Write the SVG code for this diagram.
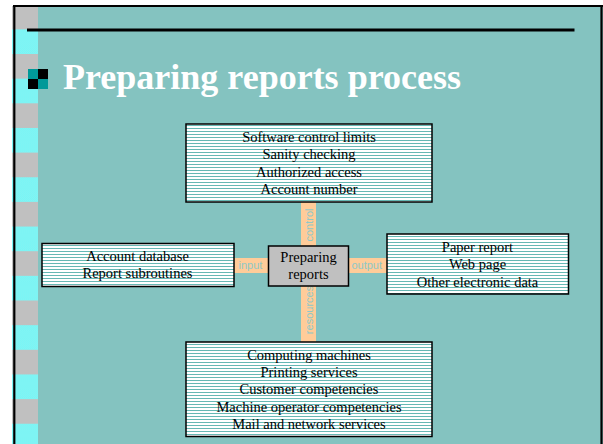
<svg xmlns="http://www.w3.org/2000/svg" width="603" height="444" viewBox="0 0 603 444">
  <defs>
    <!-- ruled fill used by the outer boxes -->
    <pattern id="ruled" patternUnits="userSpaceOnUse" x="0" y="0" width="6" height="3">
      <rect width="6" height="3" fill="#ffffff"/>
      <rect y="2" width="6" height="1" fill="#66b8b4"/>
    </pattern>
    <!-- dithered cyan used in the side band -->
    <pattern id="dither" patternUnits="userSpaceOnUse" width="2" height="2">
      <rect width="2" height="2" fill="#6ff6f6"/>
      <rect width="1" height="1" fill="#8cf2f2"/>
      <rect x="1" y="1" width="1" height="1" fill="#8cf2f2"/>
    </pattern>
    <!-- alternating grey / cyan side band -->
    <pattern id="band" patternUnits="userSpaceOnUse" x="12" y="4.7" width="26" height="49.3">
      <rect width="26" height="24.65" fill="#c0c0c0"/>
      <rect y="24.65" width="26" height="24.65" fill="url(#dither)"/>
    </pattern>
  </defs>
  <style>
    .box { fill: url(#ruled); stroke: #000; stroke-width: 1.5; }
    .core { fill: #c0c0c0; stroke: #000; stroke-width: 1.5; }
    .bar { fill: #ffcc99; }
    .txt { font-family: "Liberation Serif", "Times New Roman", serif; font-size: 14.5px; fill: #000; text-anchor: middle; }
    .lbl { font-family: "Liberation Sans", Arial, sans-serif; font-size: 11px; fill: #8ec8c8; text-anchor: middle; }
    .title { font-family: "Liberation Serif", "Times New Roman", serif; font-size: 36px; font-weight: bold; fill: #ffffff; }
  </style>

  <!-- slide background -->
  <rect x="0" y="0" width="603" height="444" fill="#ffffff"/>
  <rect x="14" y="6" width="589" height="438" fill="#84c3c0"/>
  <rect x="12" y="6" width="26" height="438" fill="url(#band)"/>
  <!-- frame -->
  <g stroke="#000" stroke-width="2.2" fill="none">
    <line x1="13" y1="6" x2="603" y2="6"/>
    <line x1="14.3" y1="6" x2="14.3" y2="444"/>
    <line x1="601.5" y1="6" x2="601.5" y2="444"/>
  </g>
  <line x1="27" y1="30" x2="574.5" y2="30" stroke="#000" stroke-width="3.2"/>

  <!-- title with bullet -->
  <g id="title">
    <rect x="28" y="69" width="10" height="10" fill="#009999"/>
    <rect x="38" y="69" width="10" height="10" fill="#000"/>
    <rect x="28" y="79" width="10" height="10" fill="#000"/>
    <rect x="38" y="79" width="10" height="10" fill="#009999"/>
    <text class="title" x="63" y="89">Preparing reports process</text>
  </g>

  <!-- connectors -->
  <g id="connectors">
    <rect class="bar" x="301" y="202" width="15" height="44"/>
    <rect class="bar" x="234" y="258" width="34" height="15"/>
    <rect class="bar" x="348" y="258" width="39" height="15"/>
    <rect class="bar" x="301" y="286" width="15" height="56"/>
    <text class="lbl" transform="translate(312.5,225) rotate(-90)">control</text>
    <text class="lbl" x="250.5" y="269.3">input</text>
    <text class="lbl" x="366.7" y="269.3">output</text>
    <text class="lbl" transform="translate(312.5,310) rotate(-90)">resources</text>
  </g>

  <g id="controls">
    <rect class="box" x="186" y="124" width="246" height="78"/>
    <text class="txt" x="309" y="141.7">Software control limits</text>
    <text class="txt" x="309" y="159.2">Sanity checking</text>
    <text class="txt" x="309" y="176.7">Authorized access</text>
    <text class="txt" x="309" y="194.2">Account number</text>
  </g>

  <g id="inputs">
    <rect class="box" x="42" y="243.5" width="192" height="43"/>
    <text class="txt" x="137.5" y="260.7">Account database</text>
    <text class="txt" x="137.5" y="278">Report subroutines</text>
  </g>

  <g id="process">
    <rect class="core" x="268.5" y="246" width="80" height="40"/>
    <text class="txt" x="308.5" y="261.7">Preparing</text>
    <text class="txt" x="308.5" y="278.5">reports</text>
  </g>

  <g id="outputs">
    <rect class="box" x="387" y="234" width="181.5" height="60"/>
    <text class="txt" x="477.5" y="251.7">Paper report</text>
    <text class="txt" x="477.5" y="269.3">Web page</text>
    <text class="txt" x="477.5" y="287">Other electronic data</text>
  </g>

  <g id="resources">
    <rect class="box" x="186" y="342" width="246" height="94.5"/>
    <text class="txt" x="309" y="360">Computing machines</text>
    <text class="txt" x="309" y="377">Printing services</text>
    <text class="txt" x="309" y="394.3">Customer competencies</text>
    <text class="txt" x="309" y="411.7">Machine operator competencies</text>
    <text class="txt" x="309" y="429">Mail and network services</text>
  </g>
</svg>
